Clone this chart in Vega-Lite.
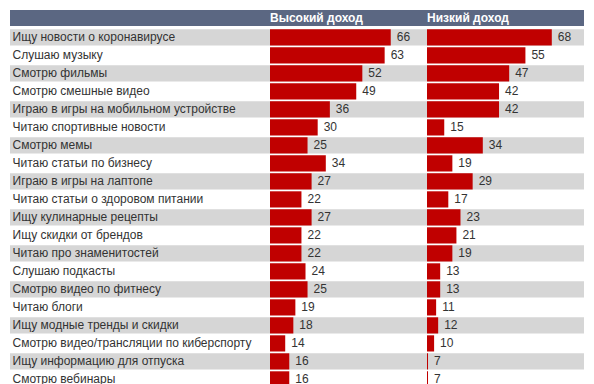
{
  "$schema": "https://vega.github.io/schema/vega-lite/v6.json",
  "padding": {"left": 10, "top": 10, "right": 10, "bottom": 0},
  "spacing": 2.4,
  "config": {"view": {"stroke": null}, "font": "Liberation Sans"},
  "datasets": {
    "rows": [
      {"order": 1, "activity": "Ищу новости о коронавирусе", "high": 66, "low": 68},
      {"order": 2, "activity": "Слушаю музыку", "high": 63, "low": 55},
      {"order": 3, "activity": "Смотрю фильмы", "high": 52, "low": 47},
      {"order": 4, "activity": "Смотрю смешные видео", "high": 49, "low": 42},
      {"order": 5, "activity": "Играю в игры на мобильном устройстве", "high": 36, "low": 42},
      {"order": 6, "activity": "Читаю спортивные новости", "high": 30, "low": 15},
      {"order": 7, "activity": "Смотрю мемы", "high": 25, "low": 34},
      {"order": 8, "activity": "Читаю статьи по бизнесу", "high": 34, "low": 19},
      {"order": 9, "activity": "Играю в игры на лаптопе", "high": 27, "low": 29},
      {"order": 10, "activity": "Читаю статьи о здоровом питании", "high": 22, "low": 17},
      {"order": 11, "activity": "Ищу кулинарные рецепты", "high": 27, "low": 23},
      {"order": 12, "activity": "Ищу скидки от брендов", "high": 22, "low": 21},
      {"order": 13, "activity": "Читаю про знаменитостей", "high": 22, "low": 19},
      {"order": 14, "activity": "Слушаю подкасты", "high": 24, "low": 13},
      {"order": 15, "activity": "Смотрю видео по фитнесу", "high": 25, "low": 13},
      {"order": 16, "activity": "Читаю блоги", "high": 19, "low": 11},
      {"order": 17, "activity": "Ищу модные тренды и скидки", "high": 18, "low": 12},
      {"order": 18, "activity": "Смотрю видео/трансляции по киберспорту", "high": 14, "low": 10},
      {"order": 19, "activity": "Ищу информацию для отпуска", "high": 16, "low": 7},
      {"order": 20, "activity": "Смотрю вебинары", "high": 16, "low": 7}
    ],
    "heads": [
      {"group": "Высокий доход"},
      {"group": "Низкий доход"}
    ]
  },
  "vconcat": [
    {
      "width": 574,
      "height": 16,
      "data": {"name": "heads"},
      "layer": [
        {"mark": {"type": "rect", "color": "#5b6782"}, "encoding": {}},
        {
          "mark": {"type": "text", "align": "left", "baseline": "middle", "color": "white", "fontWeight": "bold", "fontSize": 12},
          "encoding": {
            "x": {"field": "group", "type": "nominal", "sort": null, "scale": {"type": "point", "range": [260, 417], "padding": 0}, "axis": null},
            "text": {"field": "group"}
          }
        }
      ]
    },
    {
      "width": 574,
      "height": 360,
      "data": {"name": "rows"},
      "encoding": {
        "y": {
          "field": "activity", "type": "nominal", "sort": {"field": "order"},
          "scale": {"paddingInner": 0.1, "paddingOuter": 0.05},
          "axis": {"title": null, "domain": false, "ticks": false, "tickSize": 0, "grid": false, "labelPadding": -2, "labelAlign": "left", "labelFontSize": 12, "labelColor": "#333333", "labelLimit": 300, "zindex": 1, "labelFont": "Liberation Sans"}
        }
      },
      "layer": [
        {
          "mark": {"type": "rect"},
          "encoding": {
            "color": {"condition": {"test": "datum.order % 2 == 1", "value": "#d6d6d6"}, "value": "transparent"}
          }
        },
        {
          "mark": {"type": "bar", "color": "#c00000"},
          "encoding": {
            "x": {"field": "high", "type": "quantitative", "scale": {"domain": [6.5, 68], "range": [260, 384.8]}, "axis": null},
            "x2": {"datum": 6.5}
          }
        },
        {
          "mark": {"type": "text", "align": "left", "baseline": "middle", "dx": 6, "fontSize": 12, "color": "#333333"},
          "encoding": {
            "x": {"field": "high", "type": "quantitative", "scale": {"domain": [6.5, 68], "range": [260, 384.8]}, "axis": null},
            "text": {"field": "high"}
          }
        },
        {
          "mark": {"type": "bar", "color": "#c00000"},
          "encoding": {
            "x": {"field": "low", "type": "quantitative", "scale": {"domain": [6.5, 68], "range": [417, 541.8]}, "axis": null},
            "x2": {"datum": 6.5}
          }
        },
        {
          "mark": {"type": "text", "align": "left", "baseline": "middle", "dx": 6, "fontSize": 12, "color": "#333333"},
          "encoding": {
            "x": {"field": "low", "type": "quantitative", "scale": {"domain": [6.5, 68], "range": [417, 541.8]}, "axis": null},
            "text": {"field": "low"}
          }
        }
      ],
      "resolve": {"scale": {"x": "independent"}}
    }
  ]
}
